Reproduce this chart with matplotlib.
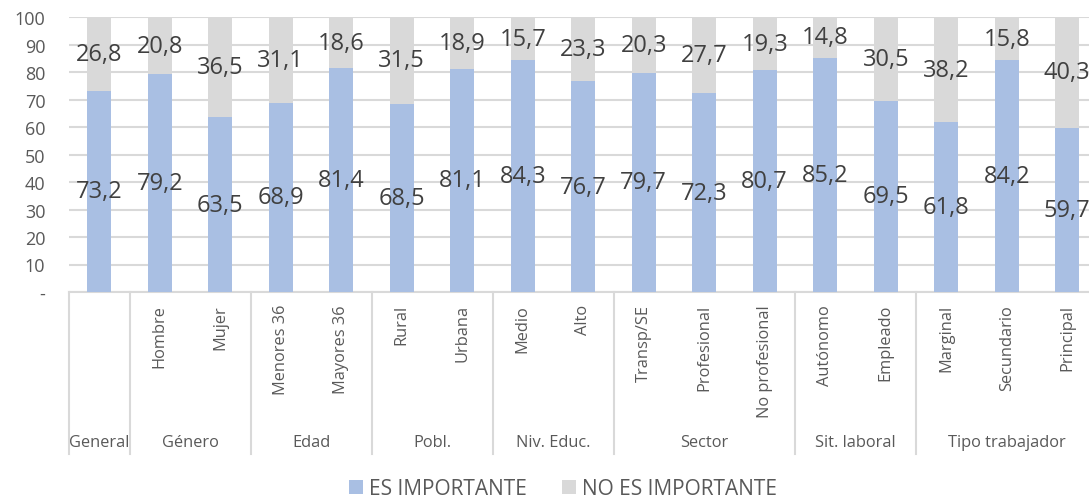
import matplotlib
matplotlib.use("Agg")
import matplotlib.pyplot as plt
from matplotlib.patches import Patch

plt.rcParams['font.family'] = ['Open Sans', 'DejaVu Sans']

categories = ["", "Hombre", "Mujer", "Menores 36", "Mayores 36", "Rural", "Urbana",
              "Medio", "Alto", "Transp/SE", "Profesional", "No profesional",
              "Autónomo", "Empleado", "Marginal", "Secundario", "Principal"]
groups = ["General", "Género", "Edad", "Pobl.", "Niv. Educ.", "Sector",
          "Sit. laboral", "Tipo trabajador"]
group_sizes = [1, 2, 2, 2, 2, 3, 2, 3]
es_importante = [73.2, 79.2, 63.5, 68.9, 81.4, 68.5, 81.1, 84.3, 76.7,
                 79.7, 72.3, 80.7, 85.2, 69.5, 61.8, 84.2, 59.7]
no_importante = [26.8, 20.8, 36.5, 31.1, 18.6, 31.5, 18.9, 15.7, 23.3,
                 20.3, 27.7, 19.3, 14.8, 30.5, 38.2, 15.8, 40.3]
y_ticks = [0, 10, 20, 30, 40, 50, 60, 70, 80, 90, 100]
y_ticklabels = ["-", "10", "20", "30", "40", "50", "60", "70", "80", "90", "100"]
series_names = ["ES IMPORTANTE", "NO ES IMPORTANTE"]

BLUE = "#A9BFE3"
GREY = "#D9D9D9"
GRID = "#D9D9D9"
LABEL = "#404040"
TICK = "#595959"

W, H = 1089, 502
fig = plt.figure(figsize=(W / 100, H / 100), dpi=100)
left_px, right_px, top_px, bottom_px = 69, 69 + 17 * 60.5, 18, 293
ax = fig.add_axes([left_px / W, 1 - bottom_px / H,
                   (right_px - left_px) / W, (bottom_px - top_px) / H])

x = list(range(len(categories)))
ax.bar(x, es_importante, width=0.4, color=BLUE, zorder=3)
ax.bar(x, no_importante, width=0.4, bottom=es_importante, color=GREY, zorder=3)

for i, (a, b) in enumerate(zip(es_importante, no_importante)):
    ax.text(i, a / 2, f"{a:.1f}".replace(".", ","), ha="center", va="center",
            fontsize=17, color=LABEL, zorder=4)
    ax.text(i, a + b / 2, f"{b:.1f}".replace(".", ","), ha="center", va="center",
            fontsize=17, color=LABEL, zorder=4)

ax.set_xlim(-0.5, len(categories) - 0.5)
ax.set_ylim(0, 100)
ax.set_yticks(y_ticks)
ax.set_yticklabels(y_ticklabels, fontsize=13, color=TICK)
ax.tick_params(axis="y", length=0, pad=17)
ax.set_xticks([])
ax.grid(axis="y", color=GRID, linewidth=1.5, zorder=0)
for side in ["top", "right", "left"]:
    ax.spines[side].set_visible(False)
ax.spines["bottom"].set_color(GRID)
ax.spines["bottom"].set_linewidth(1.5)

trans = ax.get_xaxis_transform()
sep_bottom = (bottom_px - 455) / (bottom_px - top_px)
for i, name in enumerate(categories):
    if name:
        ax.text(i, -12 / (bottom_px - top_px), name, rotation=90, ha="center",
                va="top", fontsize=11.8, color=TICK, transform=trans)

start = 0
boundaries = [-0.5]
for g, n in zip(groups, group_sizes):
    center = start + (n - 1) / 2
    ax.text(center, (bottom_px - 443) / (bottom_px - top_px), g, ha="center",
            va="center", fontsize=11.8, color=TICK, transform=trans)
    start += n
    boundaries.append(start - 0.5)
for b in boundaries:
    ax.plot([b, b], [0, sep_bottom], color=GRID, linewidth=1.5,
            transform=trans, clip_on=False)

handles = [Patch(facecolor=BLUE, edgecolor="none"),
           Patch(facecolor=GREY, edgecolor="none")]
fig.legend(handles, series_names, loc="center", bbox_to_anchor=(563 / W, 1 - 490 / H),
           ncol=2, frameon=False, fontsize=15, labelcolor=TICK,
           handlelength=0.65, handleheight=0.65, handletextpad=0.3, columnspacing=1.7)

fig.savefig("out.png", dpi=100)
